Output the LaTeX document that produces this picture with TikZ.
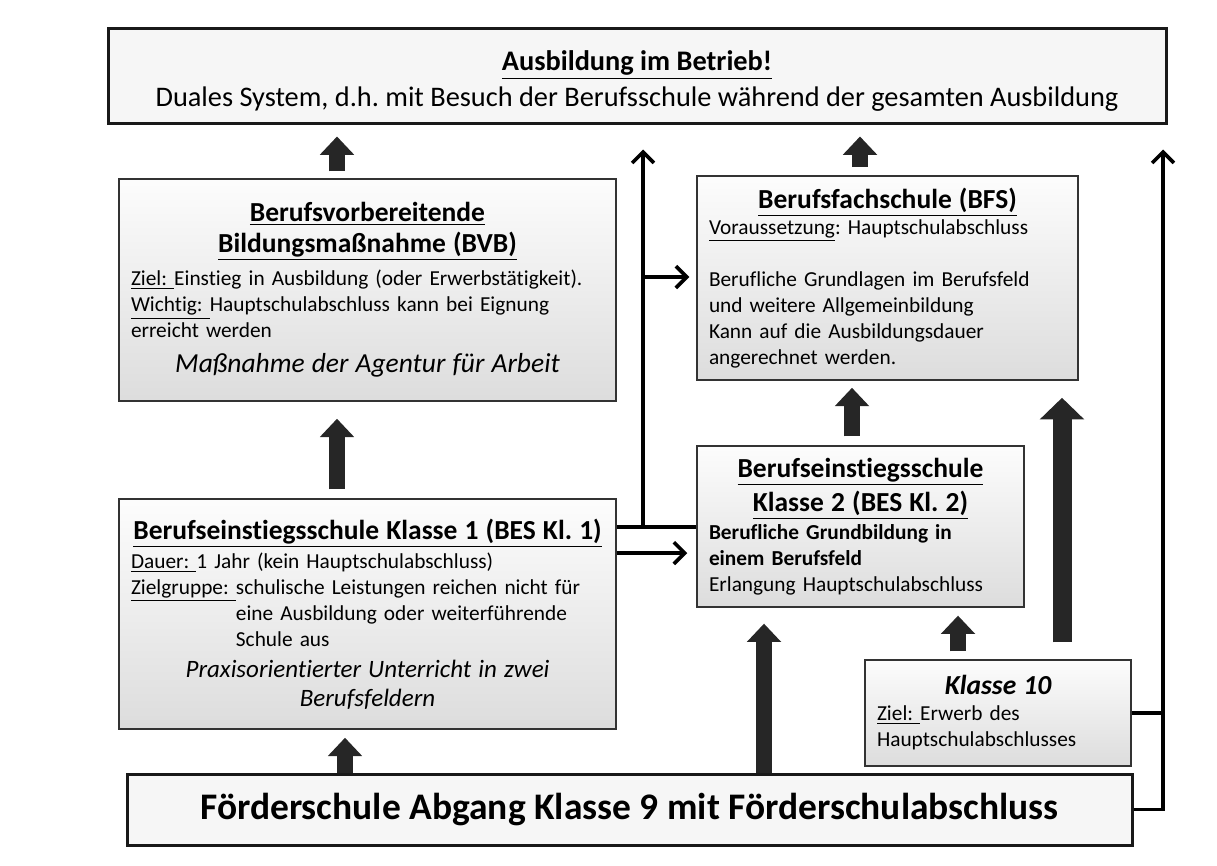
\documentclass[tikz,border=0pt]{standalone}
\usepackage{fontspec}
\setmainfont{Carlito}[Ligatures=NoCommon]
\usetikzlibrary{arrows.meta}

\newcommand{\boxtitle}{\fontsize{16.5}{18.5}\selectfont\bfseries}
\newcommand{\bodysize}{\fontsize{12.8}{15.6}\selectfont}
\frenchspacing

\begin{document}
\begin{tikzpicture}[x=.6pt,y=-.6pt,
  box/.style={draw=black!80,line width=.9pt,top color=gray!2,bottom color=gray!27,
    inner sep=7.2pt,align=left,font=\bodysize},
  frame/.style={draw=black!90,line width=1.8pt,fill=gray!7,align=center},
  fat/.style={draw=black!85,line width=9.6pt,-{Triangle[width=20pt,length=11pt]}},
  ln/.style={line width=2.2pt},
  arr/.style={ln,-{Straight Barb[length=6.5pt,width=13pt]}}]
  \useasboundingbox (0,0) rectangle (1217,865);
  % boxes
  \node[frame,minimum width=634.8pt,minimum height=57pt,font=\fontsize{17}{21.6}\selectfont] (top) at (637,75.5)
    {\rule{0pt}{19pt}\textbf{\underline{Ausbildung im Betrieb!}}\\Duales System, d.h. mit Besuch der Berufsschule während der gesamten Ausbildung};
  \node[box,minimum width=298.2pt,minimum height=133.2pt,text width=283.8pt] (bvb) at (367.5,290)
    {{\centering\boxtitle\underline{Berufsvorbereitende}\\\underline{Bildungsmaßnahme (BVB)}\par}\vspace{4.5pt}
     \makebox[\linewidth][l]{\underline{Ziel:\ }Einstieg in Ausbildung (oder Erwerbstätigkeit).}\\
     \underline{Wichtig:\ }Hauptschulabschluss kann bei Eignung\\
     erreicht werden\par\vspace{2pt}
     {\centering\fontsize{16.5}{19}\selectfont\itshape Maßnahme der Agentur für Arbeit\par}};
  \node[box,minimum width=228.6pt,minimum height=117.6pt,text width=214.2pt] (bfs) at (887.5,278)
    {{\centering\boxtitle\underline{Berufsfachschule (BFS)}\par}
     \underline{Voraussetzung}: Hauptschulabschluss\\[15.6pt]
     Berufliche Grundlagen im Berufsfeld\\
     und weitere Allgemeinbildung\\
     Kann auf die Ausbildungsdauer\\
     angerechnet werden.};
  \node[box,minimum width=298.2pt,minimum height=138pt,text width=283.8pt] (bes1) at (367.5,614)
    {{\centering\boxtitle\underline{Berufseinstiegsschule Klasse 1 (BES Kl. 1)}\par}\vspace{2pt}
     \underline{Dauer:\ }1 Jahr (kein Hauptschulabschluss)\\
     \underline{Zielgruppe:\ }schulische Leistungen reichen nicht für\\
     \phantom{Zielgruppe:\ }eine Ausbildung oder weiterführende\\
     \phantom{Zielgruppe:\ }Schule aus\\[1pt]
     {\centering\fontsize{15}{17.5}\selectfont\itshape Praxisorientierter Unterricht in zwei\\Berufsfeldern\par}};
  \node[box,minimum width=196.2pt,minimum height=95.4pt,text width=181.8pt] (bes2) at (860.5,526.5)
    {{\centering\fontsize{16.5}{20.5}\selectfont\bfseries\underline{Berufseinstiegsschule}\\\underline{Klasse 2 (BES Kl. 2)}\par}\vspace{1pt}
     \textbf{Berufliche Grundbildung in}\\
     \textbf{einem Berufsfeld}\\
     Erlangung Hauptschulabschluss};
  \node[box,minimum width=159.6pt,minimum height=63.6pt,text width=145.2pt] (k10) at (998,713)
    {{\centering\boxtitle\itshape Klasse 10\par}
     \underline{Ziel:\ }Erwerb des\\
     Hauptschulabschlusses};
  \node[frame,minimum width=603pt,minimum height=42.6pt,font=\fontsize{22.5}{26}\selectfont\bfseries] (foe) at (629.5,809.5)
    {Förderschule Abgang Klasse 9 mit Förderschulabschluss};
  % helper points
  \coordinate (j) at (643,527);
  \coordinate (k) at (643,277);
  \coordinate (m) at (643,553);
  \coordinate (rx) at (1163,808);
  \coordinate (a1) at (337,0);
  \coordinate (a2) at (860,0);
  \coordinate (a3) at (852,0);
  \coordinate (a4) at (1062,0);
  \coordinate (a5) at (958,0);
  \coordinate (a6) at (764,0);
  \coordinate (a7) at (345,0);
  % block arrows
  \draw[fat,shorten <=4.2pt,shorten >=7.2pt] (a1 |- bvb.north) -- (a1 |- top.south);
  \draw[fat,shorten <=4.8pt,shorten >=7.2pt] (a2 |- bfs.north) -- (a2 |- top.south);
  \draw[fat,shorten <=5.4pt,shorten >=10.2pt] (a1 |- bes1.north) -- (a1 |- bvb.south);
  \draw[fat,shorten <=5.4pt,shorten >=4.2pt] (a3 |- bes2.north) -- (a3 |- bfs.south);
  \draw[fat,line width=11.4pt,-{Triangle[width=26pt,length=13pt]},shorten <=10.2pt,shorten >=10.2pt]
    (a4 |- k10.north) -- (a4 |- bfs.south);
  \draw[fat,shorten <=4.8pt,shorten >=4.8pt] (a5 |- k10.north) -- (a5 |- bes2.south);
  \draw[fat,shorten >=9.6pt] (a6 |- foe.north) -- (a6 |- bes2.south);
  \draw[fat,shorten >=4.8pt] (a7 |- foe.north) -- (a7 |- bes1.south);
  % thin connectors
  \draw[ln] (j -| bes1.east) -- (j -| bes2.west);
  \draw[arr,shorten >=15pt] (j) -- (j |- top.south);
  \draw[arr,shorten >=4.2pt] (k) -- (k -| bfs.west);
  \draw[arr,shorten >=5.4pt] (m -| bes1.east) -- (m -| bes2.west);
  \draw[arr,shorten >=15pt] (foe.east) -| (rx |- top.south);
  \draw[ln] (k10.east) -- (k10.east -| rx);
\end{tikzpicture}
\end{document}
